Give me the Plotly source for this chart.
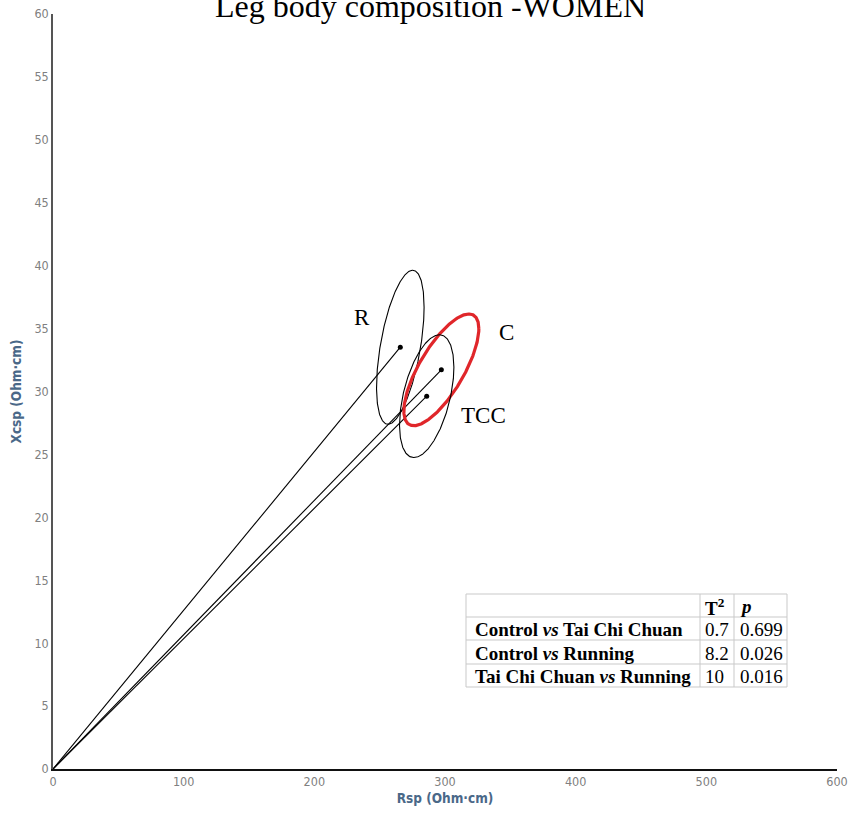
import numpy as np
import plotly.graph_objects as go

# ---------------- data ----------------
groups = ["R", "C", "TCC"]
mean_rsp = [265.8, 297.2, 286.0]      # Rsp (Ohm·cm)
mean_xcsp = [33.52, 31.72, 29.63]     # Xcsp (Ohm·cm)
# confidence ellipse parameters (half extents in data units and correlation)
ell_hx = [18.2, 28.7, 20.8]
ell_hy = [6.12, 4.44, 4.88]
ell_r = [0.52, 0.735, 0.47]
ell_colors = ["black", "#e0262a", "black"]
ell_widths = [1.1, 3.2, 1.1]
label_x = [236.5, 347.4, 329.8]
label_y = [35.9, 34.7, 28.1]

table_rows = ["<b>Control <i>vs</i> Tai Chi Chuan</b>",
              "<b>Control <i>vs</i> Running</b>",
              "<b>Tai Chi Chuan <i>vs</i> Running</b>"]
table_T2 = ["0.7", "8.2", "10"]
table_p = ["0.699", "0.026", "0.016"]
table_header = ["", "<b>T<sup>2</sup></b>", "<b><i>p</i></b>"]

x_ticks = [0, 100, 200, 300, 400, 500, 600]
y_ticks = list(range(0, 61, 5))

# ---------------- layout geometry ----------------
W, H = 848, 814
ML, MR, MT, MB = 53, 11, 14, 45
PW, PH = W - ML - MR, H - MT - MB


def px2paper_x(px):
    return (px - ML) / PW


def px2paper_y(py):
    return (H - MB - py) / PH


fig = go.Figure()

# lines from origin to group means
for i, g in enumerate(groups):
    fig.add_trace(go.Scatter(x=[0, mean_rsp[i]], y=[0, mean_xcsp[i]], mode="lines",
                             line=dict(color="black", width=1.1), hoverinfo="skip",
                             showlegend=False))

# ellipses
t = np.linspace(0, 2 * np.pi, 361)
for i, g in enumerate(groups):
    ex = mean_rsp[i] + ell_hx[i] * np.cos(t)
    ey = mean_xcsp[i] + ell_hy[i] * (ell_r[i] * np.cos(t) + np.sqrt(1 - ell_r[i] ** 2) * np.sin(t))
    fig.add_trace(go.Scatter(x=ex, y=ey, mode="lines",
                             line=dict(color=ell_colors[i], width=ell_widths[i]),
                             hoverinfo="skip", showlegend=False))

# mean points
fig.add_trace(go.Scatter(x=mean_rsp, y=mean_xcsp, mode="markers",
                         marker=dict(color="black", size=5), showlegend=False))

annotations = []
for i, g in enumerate(groups):
    annotations.append(dict(x=label_x[i], y=label_y[i], xref="x", yref="y", text=g,
                            showarrow=False,
                            font=dict(family="Liberation Serif, Times New Roman, serif",
                                      size=23, color="black")))

# title
annotations.append(dict(x=px2paper_x(430), y=px2paper_y(6), xref="paper", yref="paper",
                        text="Leg body composition -WOMEN", showarrow=False,
                        xanchor="center", yanchor="middle",
                        font=dict(family="Liberation Serif, Times New Roman, serif",
                                  size=32, color="black")))

# table
col_px = [466, 700, 734, 787]
col_pad = [7, 3, 4]
row_px = [594, 617, 640, 664, 687]
shapes = []
grid_col = "#c9c9c9"
for cx in col_px:
    shapes.append(dict(type="line", xref="paper", yref="paper",
                       x0=px2paper_x(cx), x1=px2paper_x(cx),
                       y0=px2paper_y(row_px[0]), y1=px2paper_y(row_px[-1]),
                       line=dict(color=grid_col, width=1)))
for ry in row_px:
    shapes.append(dict(type="line", xref="paper", yref="paper",
                       x0=px2paper_x(col_px[0]), x1=px2paper_x(col_px[-1]),
                       y0=px2paper_y(ry), y1=px2paper_y(ry),
                       line=dict(color=grid_col, width=1)))

table_cells = [table_header] + [[table_rows[k], table_T2[k], table_p[k]] for k in range(3)]
tfont = dict(family="Liberation Serif, Times New Roman, serif", size=19, color="black")
for ri, row in enumerate(table_cells):
    yc = (row_px[ri] + row_px[ri + 1]) / 2
    for ci, txt in enumerate(row):
        if not txt:
            continue
        annotations.append(dict(x=px2paper_x(col_px[ci] + col_pad[ci]), y=px2paper_y(yc + 1),
                                xref="paper", yref="paper", text=txt, showarrow=False,
                                xanchor="left", yanchor="middle", font=tfont))

axis_title_font = dict(family="DejaVu Sans Condensed, Open Sans, sans-serif", size=13.5,
                       color="#4a6888")
tick_font = dict(family="DejaVu Sans Condensed, Open Sans, sans-serif", size=12.5,
                 color="#808080")

fig.update_layout(
    width=W, height=H,
    margin=dict(l=ML, r=MR, t=MT, b=MB),
    paper_bgcolor="white", plot_bgcolor="white",
    showlegend=False,
    annotations=annotations,
    shapes=shapes,
    xaxis=dict(range=[0, 600], tickvals=x_ticks, showgrid=False, zeroline=False,
               showline=True, linecolor="#111111", linewidth=2, ticks="",
               tickfont=tick_font, automargin=False,
               title=dict(text="<b>Rsp (Ohm·cm)</b>", font=axis_title_font, standoff=6)),
    yaxis=dict(range=[0, 60], tickvals=y_ticks, showgrid=False, zeroline=False,
               showline=True, linecolor="#555555", linewidth=1.5, ticks="",
               tickfont=tick_font, automargin=False,
               title=dict(text="<b>Xcsp (Ohm·cm)</b>", font=axis_title_font, standoff=10)),
)

fig.write_html("out.html")
